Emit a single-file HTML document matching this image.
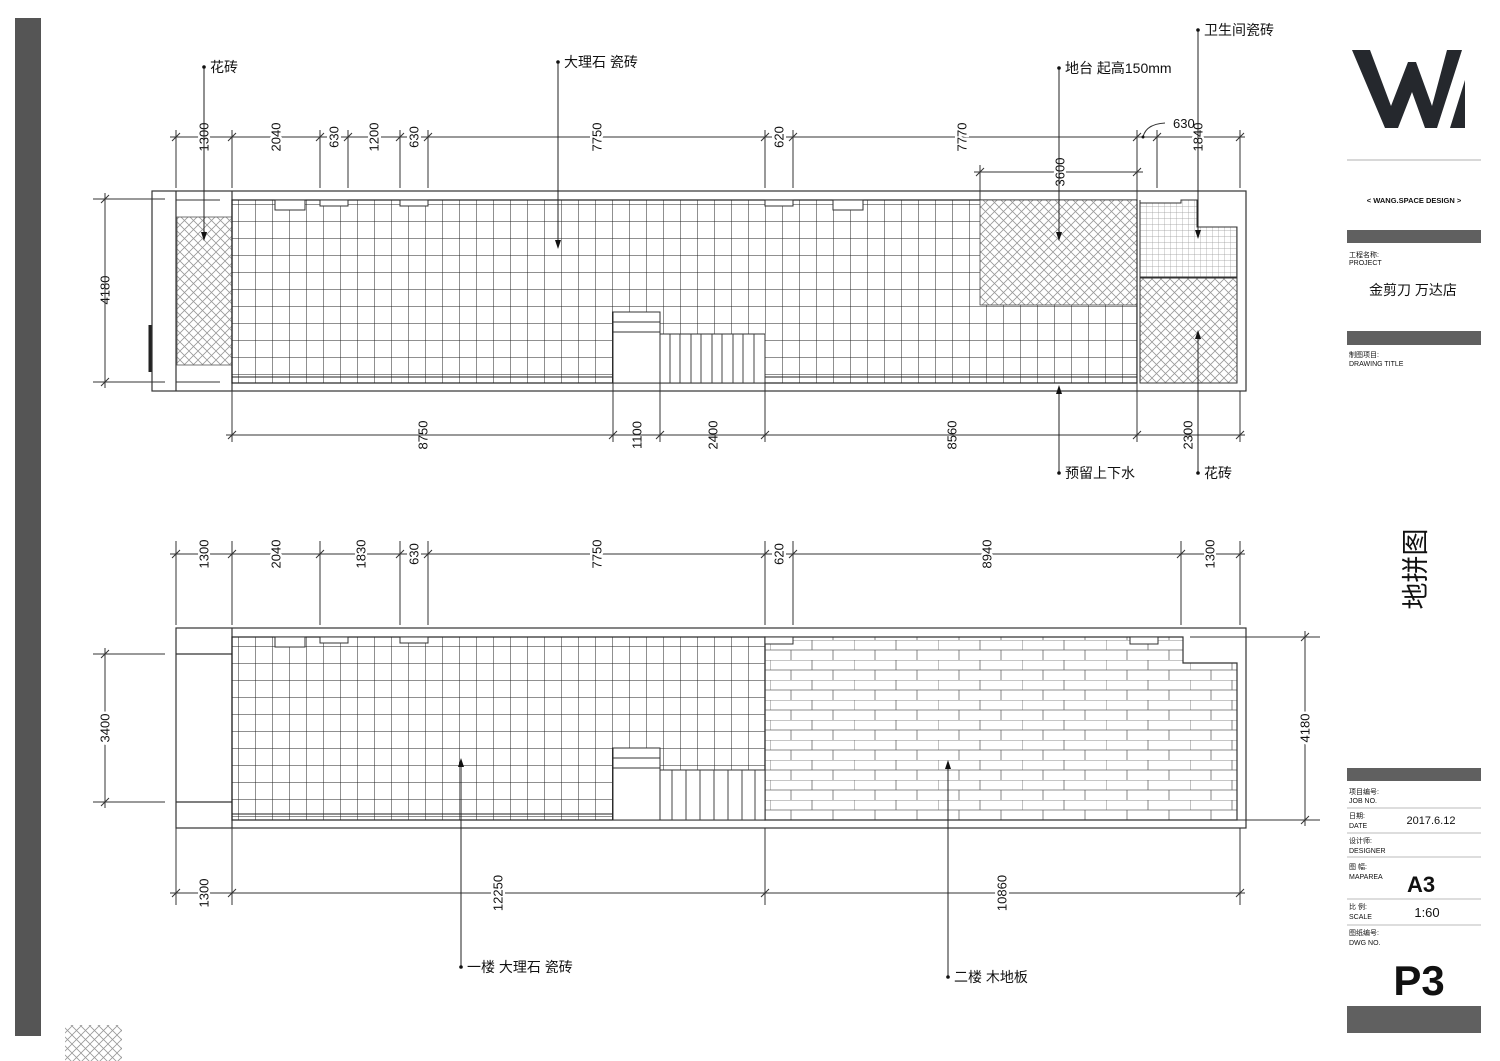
<!DOCTYPE html>
<html><head><meta charset="utf-8"><style>
html,body{margin:0;padding:0;background:#fff;}
svg{display:block;}
text{font-family:"Liberation Sans","Noto Sans CJK SC",sans-serif;fill:#111;}
.d{font-size:13px;paint-order:stroke;stroke:#fff;stroke-width:5px;}
</style></head><body>
<svg width="1500" height="1061" viewBox="0 0 1500 1061" xmlns="http://www.w3.org/2000/svg">
<defs>
<pattern id="grid" patternUnits="userSpaceOnUse" x="238" y="204" width="17" height="17">
<path d="M0 0V17M0 0H17" stroke="#222" stroke-width="1" fill="none"/>
</pattern>
<pattern id="fine" patternUnits="userSpaceOnUse" x="1140" y="200" width="6" height="6">
<path d="M0 0V6M0 0H6" stroke="#999" stroke-width="0.7" fill="none"/>
</pattern>
<pattern id="hatch" patternUnits="userSpaceOnUse" width="9" height="9">
<path d="M0 0L9 9M9 0L0 9" stroke="#999" stroke-width="0.8" fill="none"/>
</pattern>
<pattern id="brick" patternUnits="userSpaceOnUse" x="770" y="640" width="84" height="20">
<path d="M0 0H84M0 10H84M0 0V10M42 0V10M21 10V20M63 10V20" stroke="#666" stroke-width="0.8" fill="none"/>
</pattern>
</defs>

<rect x="15" y="18" width="26" height="1018" fill="#555"/>
<rect x="65" y="1025" width="57" height="36" fill="url(#hatch)"/>

<!-- ===== TOP PLAN ===== -->
<g stroke="#333" fill="none" stroke-width="1.2">
<rect x="152" y="191" width="1094" height="200"/>
<line x1="176" y1="191" x2="176" y2="391"/>
<line x1="232" y1="191" x2="232" y2="391"/>
</g>
<rect x="177" y="217" width="55" height="148" fill="url(#hatch)" stroke="#555" stroke-width="0.8"/>
<line x1="176" y1="200" x2="220" y2="200" stroke="#333"/>
<line x1="176" y1="382" x2="220" y2="382" stroke="#333"/>
<line x1="150" y1="325" x2="150" y2="372" stroke="#222" stroke-width="3"/>
<rect x="232" y="200" width="905" height="183" fill="url(#grid)" stroke="#222" stroke-width="1.2"/>
<line x1="232" y1="377" x2="1137" y2="377" stroke="#222"/>
<rect x="980" y="200" width="157" height="105" fill="#fff"/>
<rect x="980" y="200" width="157" height="105" fill="url(#hatch)" stroke="#444" stroke-width="0.8"/>
<g stroke="#333" fill="#fff" stroke-width="1">
<rect x="275" y="200" width="30" height="10"/>
<rect x="320" y="200" width="28" height="6"/>
<rect x="400" y="200" width="28" height="6"/>
<rect x="765" y="200" width="28" height="6"/>
<rect x="833" y="200" width="30" height="10"/>
</g>
<rect x="613" y="312" width="47" height="71" fill="#fff" stroke="#333"/>
<line x1="613" y1="322" x2="660" y2="322" stroke="#333"/>
<line x1="613" y1="332" x2="660" y2="332" stroke="#333"/>
<rect x="660" y="334" width="105" height="49" fill="#fff" stroke="#333"/>
<g stroke="#444">
<line x1="670" y1="334" x2="670" y2="383"/><line x1="680" y1="334" x2="680" y2="383"/><line x1="691" y1="334" x2="691" y2="383"/><line x1="701" y1="334" x2="701" y2="383"/><line x1="712" y1="334" x2="712" y2="383"/><line x1="722" y1="334" x2="722" y2="383"/><line x1="733" y1="334" x2="733" y2="383"/><line x1="743" y1="334" x2="743" y2="383"/><line x1="754" y1="334" x2="754" y2="383"/>
</g>
<rect x="1137" y="200" width="100" height="183" fill="#fff"/>
<path d="M1140 203H1181V200H1197V227H1237V277H1140Z" fill="url(#fine)" stroke="#333"/>
<rect x="1140" y="278" width="97" height="105" fill="url(#hatch)" stroke="#333"/>
<line x1="1137" y1="200" x2="1137" y2="383" stroke="#333" stroke-width="1.2"/>
<line x1="1140" y1="200" x2="1140" y2="383" stroke="#333"/>

<g stroke="#333" stroke-width="1">
<line x1="170" y1="137" x2="1245" y2="137"/>
<path d="M176 130V188M232 130V188M320 130V188M348 130V188M400 130V188M428 130V188M765 130V188M793 130V188M1137 130V188M1157 130V188M1240 130V188"/>
<path d="M172 141l8-8M228 141l8-8M316 141l8-8M344 141l8-8M396 141l8-8M424 141l8-8M761 141l8-8M789 141l8-8M1133 141l8-8M1153 141l8-8M1236 141l8-8"/>
<line x1="974" y1="172" x2="1143" y2="172"/>
<path d="M980 165V200M1137 165V200M976 176l8-8M1133 176l8-8"/>
<path d="M1143 137Q1146 124 1165 123" fill="none"/>
</g>
<circle cx="1143" cy="137" r="1.5" fill="#111"/>
<g class="d" text-anchor="middle" dominant-baseline="central">
<text transform="translate(204,137) rotate(-90)">1300</text>
<text transform="translate(276,137) rotate(-90)">2040</text>
<text transform="translate(334,137) rotate(-90)">630</text>
<text transform="translate(374,137) rotate(-90)">1200</text>
<text transform="translate(414,137) rotate(-90)">630</text>
<text transform="translate(597,137) rotate(-90)">7750</text>
<text transform="translate(779,137) rotate(-90)">620</text>
<text transform="translate(962,137) rotate(-90)">7770</text>
<text transform="translate(1198,137) rotate(-90)">1840</text>
<text transform="translate(1060,172) rotate(-90)">3600</text>
<text transform="translate(105,290) rotate(-90)">4180</text>
<text transform="translate(423,435) rotate(-90)">8750</text>
<text transform="translate(637,435) rotate(-90)">1100</text>
<text transform="translate(713,435) rotate(-90)">2400</text>
<text transform="translate(952,435) rotate(-90)">8560</text>
<text transform="translate(1188,435) rotate(-90)">2300</text>
</g>
<text x="1173" y="128" font-size="13">630</text>
<g stroke="#333" stroke-width="1">
<line x1="226" y1="435" x2="1245" y2="435"/>
<path d="M232 391V442M613 312V442M660 334V442M765 334V442M1137 383V442M1240 391V442"/>
<path d="M228 439l8-8M609 439l8-8M656 439l8-8M761 439l8-8M1133 439l8-8M1236 439l8-8"/>
<line x1="105" y1="193" x2="105" y2="388"/>
<path d="M93 199H165M93 382H165M101 203l8-8M101 386l8-8"/>
</g>
<g stroke="#222" stroke-width="1">
<path d="M204 67V232M558 62V240M1059 68V232M1198 30V230M1059 473V392M1198 473V337"/>
</g>
<g fill="#111">
<path d="M201 232h6l-3 9z"/><path d="M555 240h6l-3 9z"/><path d="M1056 232h6l-3 9z"/><path d="M1195 230h6l-3 9z"/>
<path d="M1056 394h6l-3 -9z"/><path d="M1195 339h6l-3 -9z"/>
<circle cx="204" cy="67" r="1.8"/><circle cx="558" cy="62" r="1.8"/><circle cx="1059" cy="68" r="1.8"/><circle cx="1198" cy="30" r="1.8"/><circle cx="1059" cy="473" r="1.8"/><circle cx="1198" cy="473" r="1.8"/>
</g>
<g font-size="14">
<text x="210" y="72">花砖</text>
<text x="564" y="67">大理石 瓷砖</text>
<text x="1065" y="73">地台 起高150mm</text>
<text x="1204" y="35">卫生间瓷砖</text>
<text x="1065" y="478">预留上下水</text>
<text x="1204" y="478">花砖</text>
</g>

<!-- ===== BOTTOM PLAN ===== -->
<g stroke="#333" fill="none" stroke-width="1.2">
<rect x="176" y="628" width="1070" height="200"/>
<line x1="232" y1="628" x2="232" y2="828"/>
<line x1="176" y1="654" x2="232" y2="654"/>
<line x1="176" y1="802" x2="232" y2="802"/>
</g>
<rect x="232" y="637" width="533" height="183" fill="url(#grid)" stroke="#222" stroke-width="1.2"/>
<line x1="232" y1="814" x2="765" y2="814" stroke="#222"/>
<path d="M765 637H1183V663H1237V820H765Z" fill="url(#brick)" stroke="#333" stroke-width="1.2"/>
<g stroke="#333" fill="#fff" stroke-width="1">
<rect x="275" y="637" width="30" height="10"/>
<rect x="320" y="637" width="28" height="6"/>
<rect x="400" y="637" width="28" height="6"/>
<rect x="765" y="637" width="28" height="7"/>
<rect x="1130" y="637" width="28" height="7"/>
</g>
<rect x="613" y="748" width="47" height="72" fill="#fff" stroke="#333"/>
<line x1="613" y1="758" x2="660" y2="758" stroke="#333"/>
<line x1="613" y1="768" x2="660" y2="768" stroke="#333"/>
<rect x="660" y="770" width="105" height="50" fill="#fff" stroke="#333"/>
<g stroke="#444">
<line x1="672" y1="770" x2="672" y2="820"/><line x1="686" y1="770" x2="686" y2="820"/><line x1="700" y1="770" x2="700" y2="820"/><line x1="714" y1="770" x2="714" y2="820"/><line x1="728" y1="770" x2="728" y2="820"/><line x1="742" y1="770" x2="742" y2="820"/><line x1="755" y1="770" x2="755" y2="820"/>
</g>
<g stroke="#333" stroke-width="1">
<line x1="170" y1="554" x2="1245" y2="554"/>
<path d="M176 541V625M232 541V625M320 541V625M400 541V625M428 541V625M765 541V625M793 541V625M1181 541V625M1240 541V625"/>
<path d="M172 558l8-8M228 558l8-8M316 558l8-8M396 558l8-8M424 558l8-8M761 558l8-8M789 558l8-8M1177 558l8-8M1236 558l8-8"/>
<line x1="170" y1="893" x2="1245" y2="893"/>
<path d="M176 828V905M232 828V905M765 828V905M1240 828V905"/>
<path d="M172 897l8-8M228 897l8-8M761 897l8-8M1236 897l8-8"/>
<line x1="105" y1="648" x2="105" y2="808"/>
<path d="M93 654H165M93 802H165M101 658l8-8M101 806l8-8"/>
<line x1="1305" y1="631" x2="1305" y2="826"/>
<path d="M1190 637H1320M1190 820H1320M1301 641l8-8M1301 824l8-8"/>
</g>
<g class="d" text-anchor="middle" dominant-baseline="central">
<text transform="translate(204,554) rotate(-90)">1300</text>
<text transform="translate(276,554) rotate(-90)">2040</text>
<text transform="translate(361,554) rotate(-90)">1830</text>
<text transform="translate(414,554) rotate(-90)">630</text>
<text transform="translate(597,554) rotate(-90)">7750</text>
<text transform="translate(779,554) rotate(-90)">620</text>
<text transform="translate(987,554) rotate(-90)">8940</text>
<text transform="translate(1210,554) rotate(-90)">1300</text>
<text transform="translate(204,893) rotate(-90)">1300</text>
<text transform="translate(498,893) rotate(-90)">12250</text>
<text transform="translate(1002,893) rotate(-90)">10860</text>
<text transform="translate(105,728) rotate(-90)">3400</text>
<text transform="translate(1305,728) rotate(-90)">4180</text>
</g>
<g stroke="#222"><path d="M461 967V766M948 977V768"/></g>
<g fill="#111">
<path d="M458 767h6l-3 -9z"/><path d="M945 769h6l-3 -9z"/>
<circle cx="461" cy="967" r="1.8"/><circle cx="948" cy="977" r="1.8"/>
</g>
<g font-size="14">
<text x="467" y="972">一楼 大理石 瓷砖</text>
<text x="954" y="982">二楼 木地板</text>
</g>

<!-- ===== TITLE BLOCK ===== -->
<path d="M1352 50H1370L1391 106L1408 62H1416L1432 106L1447 50H1462L1437 128H1425L1412 92L1398 128H1385Z" fill="#25282d"/>
<path d="M1450 128L1465 80V128Z" fill="#25282d"/>
<line x1="1347" y1="160" x2="1481" y2="160" stroke="#ccc" stroke-width="1.5"/>
<text x="1414" y="203" font-size="7.5" font-weight="bold" text-anchor="middle">&lt;  WANG.SPACE DESIGN  &gt;</text>
<g fill="#606060">
<rect x="1347" y="230" width="134" height="13"/>
<rect x="1347" y="331" width="134" height="14"/>
<rect x="1347" y="768" width="134" height="13"/>
<rect x="1347" y="1006" width="134" height="27"/>
</g>
<g font-size="7">
<text x="1349" y="257" fill="#555">工程名称:</text><text x="1349" y="265">PROJECT</text>
<text x="1349" y="357" fill="#555">制图项目:</text><text x="1349" y="366">DRAWING TITLE</text>
<text x="1349" y="794" fill="#555">项目编号:</text><text x="1349" y="803">JOB NO.</text>
<text x="1349" y="818" fill="#555">日期:</text><text x="1349" y="828">DATE</text>
<text x="1349" y="843" fill="#555">设计师:</text><text x="1349" y="853">DESIGNER</text>
<text x="1349" y="869" fill="#555">图 幅:</text><text x="1349" y="879">MAPAREA</text>
<text x="1349" y="909" fill="#555">比 例:</text><text x="1349" y="919">SCALE</text>
<text x="1349" y="935" fill="#555">图纸编号:</text><text x="1349" y="945">DWG NO.</text>
</g>
<g stroke="#bbb" stroke-width="1">
<path d="M1347 808H1481M1347 833H1481M1347 857H1481M1347 899H1481M1347 925H1481"/>
</g>
<text x="1413" y="295" font-size="14" text-anchor="middle">金剪刀 万达店</text>
<text x="1431" y="824" font-size="11" text-anchor="middle">2017.6.12</text>
<text x="1421" y="892" font-size="22" font-weight="bold" text-anchor="middle">A3</text>
<text x="1427" y="917" font-size="13" text-anchor="middle">1:60</text>
<text x="1419" y="995" font-size="42" font-weight="bold" text-anchor="middle">P3</text>
<text transform="translate(1425,569) rotate(-90)" font-size="27" text-anchor="middle">地拼图</text>
</svg>
</body></html>
